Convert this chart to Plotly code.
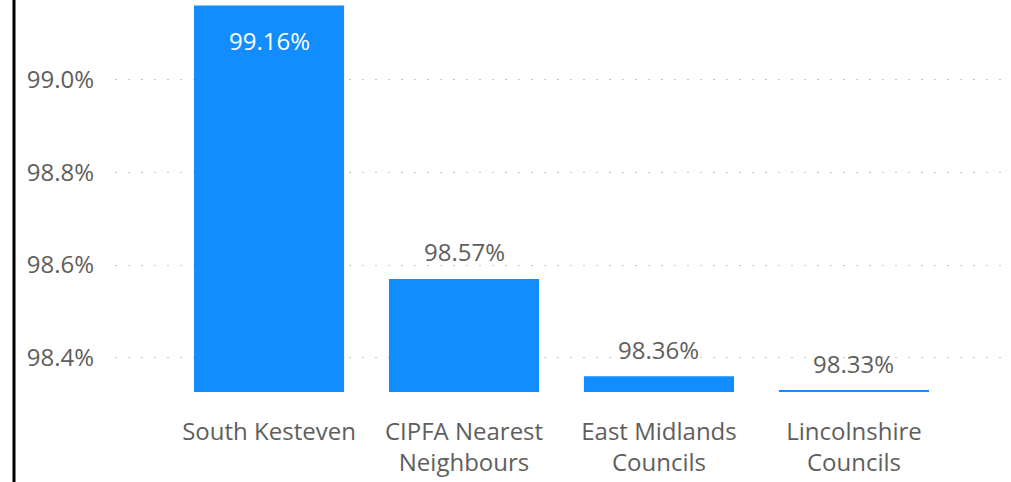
import plotly.graph_objects as go

categories = ["South Kesteven", "CIPFA Nearest<br>Neighbours", "East Midlands<br>Councils", "Lincolnshire<br>Councils"]
values = [99.16, 98.57, 98.36, 98.33]
labels = ["99.16%", "98.57%", "98.36%", "98.33%"]
label_inside = [True, False, False, False]
tick_vals = [98.4, 98.6, 98.8, 99.0]
tick_text = ["98.4%", "98.6%", "98.8%", "99.0%"]

BASE = 98.326
FONT = "Open Sans"
GRAY = "#605E5C"

fig = go.Figure(go.Bar(
    x=categories,
    y=[v - BASE for v in values],
    base=BASE,
    marker=dict(color="#118DFF", line=dict(width=0)),
    cliponaxis=False,
    hoverinfo="x+y",
))

for cat, val, lab, inside in zip(categories, values, labels, label_inside):
    fig.add_annotation(
        x=cat, y=val, text=lab, showarrow=False,
        xref="x", yref="y", yanchor="middle",
        yshift=-35 if inside else 27,
        font=dict(family=FONT, size=24, color="white" if inside else GRAY),
    )

fig.update_layout(
    width=1011, height=482,
    margin=dict(l=115, r=3, t=0, b=90),
    paper_bgcolor="white", plot_bgcolor="white",
    bargap=0.23,
    showlegend=False,
    font=dict(family=FONT, color=GRAY, size=24),
)
fig.update_xaxes(
    range=[-0.79, 3.79], showgrid=False, zeroline=False, showline=False,
    tickfont=dict(size=24, color=GRAY, family=FONT), ticks="", ticklabelstandoff=23,
)
fig.update_yaxes(
    range=[BASE, 99.172], tickvals=tick_vals, ticktext=tick_text,
    showgrid=True, gridcolor="#C8C8C8", gridwidth=1, griddash="2px,11px",
    zeroline=False, showline=False, ticks="",
    tickfont=dict(size=24, color=GRAY, family=FONT), ticklabelstandoff=20,
)
fig.add_shape(type="line", xref="paper", yref="paper",
              x0=-0.1131, x1=-0.1131, y0=-0.25, y1=1.02,
              line=dict(color="black", width=3), layer="above")

fig.write_html("out.html", config={"displayModeBar": False},
               post_script="document.body.style.margin='0';")
